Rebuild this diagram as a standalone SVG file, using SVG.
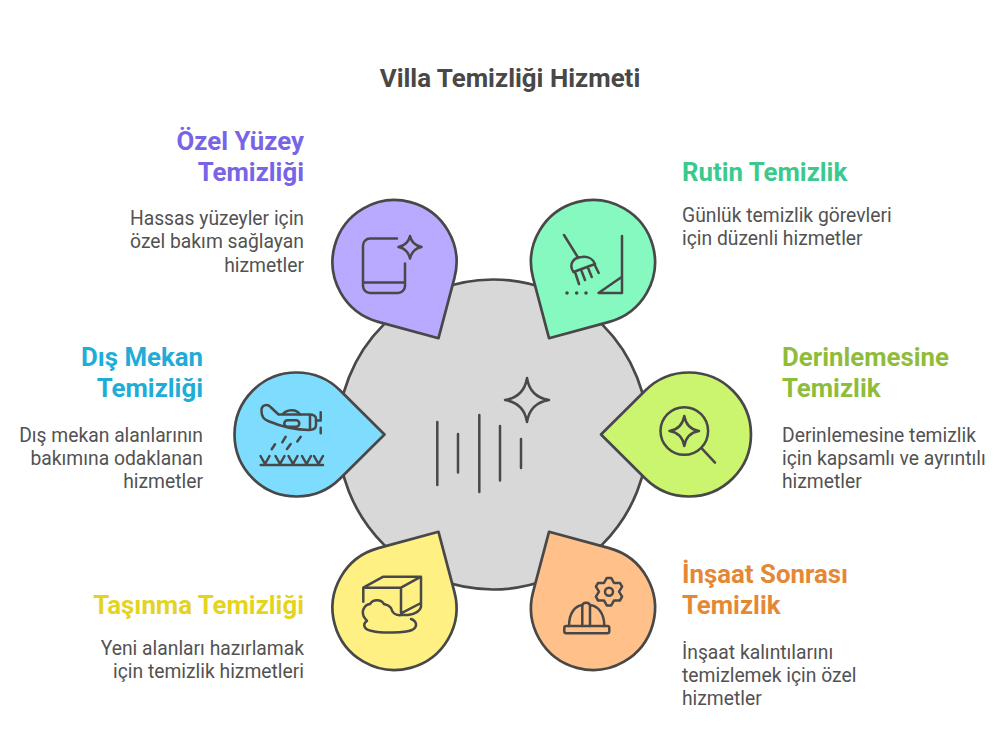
<svg xmlns="http://www.w3.org/2000/svg" width="1000" height="750" viewBox="0 0 1000 750">
<style>
text{font-family:Roboto,"Liberation Sans",sans-serif}
.title{font-size:25.9px;font-weight:700;fill:#484848;text-anchor:middle}
.h{font-size:25.8px;font-weight:700}
.b{font-size:19.3px;fill:#525252}
.e{text-anchor:end}
.drop{stroke:#484848;stroke-width:2.7;stroke-linejoin:round}
.i{fill:none;stroke:#484848;stroke-width:2.5;stroke-linecap:round;stroke-linejoin:round}
.d{stroke-width:3.6}
</style>
<defs>
<path id="drop" d="M88 0L43.7 44A62 62 0 1 1 43.7 -44Z"/>
</defs>
<rect width="1000" height="750" fill="#fff"/>
<text class="title" x="510" y="87">Villa Temizliği Hizmeti</text>
<g id="connectors"/>
<g id="center">
<circle cx="493" cy="434.5" r="155" fill="#d8d8d8" stroke="#484848" stroke-width="2.7"/>
<path class="i" d="M437.3 422V485M458 434V472.5M479.3 415V492M500 426V480.5M521 439V468"/>
<path class="i" d="M527 378Q530 397 549 400Q530 403 527 422Q524 403 505 400Q524 397 527 378Z"/>
</g>
<g id="node-ozel">
<use href="#drop" class="drop" fill="#b9a9ff" transform="translate(394.5 262) rotate(60)"/>
<path class="i" d="M397 238.5H370a7 7 0 0 0 -7 7V286a7 7 0 0 0 7 7H398a7 7 0 0 0 7 -7V263.5M363 282.5H405"/>
<path class="i" d="M410 236Q412 245 421.5 247Q412 249 410 258.5Q408 249 398.5 247Q408 245 410 236Z"/>
<text class="h e" fill="#7864e6" x="304" y="150">Özel Yüzey</text>
<text class="h e" fill="#7864e6" x="304" y="181">Temizliği</text>
<text class="b e" x="304" y="225">Hassas yüzeyler için</text>
<text class="b e" x="304" y="248">özel bakım sağlayan</text>
<text class="b e" x="304" y="271.500">hizmetler</text>
</g>
<g id="node-rutin">
<use href="#drop" class="drop" fill="#85f9c0" transform="translate(593 262) rotate(120)"/>
<path class="i" d="M564 235L578.3 258M573.500 272C568 264 574 257 582 257C588 256 593 259 595 264L573.500 272M575 272L579 284M581 269.500L585 280M587.700 267L591.700 277M594.300 264L598.700 273"/>
<path class="i" d="M622 236V293H598.500L622 276.700"/>
<path class="i d" d="M567 293h.01M576.700 293h.01M586 293h.01"/>
<text class="h" fill="#3bc98e" x="682" y="181">Rutin Temizlik</text>
<text class="b" x="682" y="222">Günlük temizlik görevleri</text>
<text class="b" x="682" y="245">için düzenli hizmetler</text>
</g>
<g id="node-derin">
<use href="#drop" class="drop" fill="#cbf56e" transform="translate(689 434.5) rotate(180)"/>
<circle class="i" cx="684.3" cy="431" r="23.8"/>
<path class="i" d="M701.7 448.3L715 462.7"/>
<path class="i" d="M684.3 416Q686.5 429 699 431Q686.5 433 684.3 446Q682 433 669.5 431Q682 429 684.3 416Z"/>
<text class="h" fill="#8fbd3b" x="782" y="366">Derinlemesine</text>
<text class="h" fill="#8fbd3b" x="782" y="397">Temizlik</text>
<text class="b" x="782" y="442">Derinlemesine temizlik</text>
<text class="b" x="782" y="465">için kapsamlı ve ayrıntılı</text>
<text class="b" x="782" y="488">hizmetler</text>
</g>
<g id="node-dis">
<use href="#drop" class="drop" fill="#7eddff" transform="translate(296.5 434.5)"/>
<path class="i" d="M261.5 411C261 405.5 267 403 270.5 407L278.5 414.5H309C314 414.5 316 416 316 419V425C316 428.5 313 430 309 430C295 430 280 426 268 421C264 419.5 261.5 417 261.5 411Z"/>
<path class="i" d="M283 414C286 410 296 408 300 414.5M310 415V429.5M316 420.5H320.7M320.7 412.3V419M320.7 427.7V433.3"/>
<rect class="i" x="284.3" y="420.3" width="15" height="6.4" rx="3.2"/>
<path class="i" d="M285.7 436.7L282.3 442.3M300.7 436.7L297.3 441.5M275 444.3L271.7 449.3M290.7 444L287 449"/>
<path class="i" d="M260.7 465H323M260.5 456L265 464L269.5 456M275.5 456L280 464L284.5 456M288.5 456L293 464L297.5 456M302 456L306.5 464L311 456M314 456L318.5 464L323 456"/>
<text class="h e" fill="#1fadd8" x="203" y="366">Dış Mekan</text>
<text class="h e" fill="#1fadd8" x="203" y="397">Temizliği</text>
<text class="b e" x="203" y="442">Dış mekan alanlarının</text>
<text class="b e" x="203" y="465">bakımına odaklanan</text>
<text class="b e" x="203" y="488">hizmetler</text>
</g>
<g id="node-tasinma">
<use href="#drop" class="drop" fill="#fff083" transform="translate(394.5 608) rotate(-60)"/>
<path class="i" d="M363.3 601.7V587.7H401V613.3M363.3 587.7L383.3 576.7H421L401 587.7M421 576.7V607C420 612 414 614 408 615H401C395 616 392 612 391 608C388 604 385 605 384 604C381 599 373 599 370 604C366 604 362 609 363 614C363 618 367 620 367 621C362 624 364 630 372 631C382 633.5 405 633 412 630C418 627 417 621 411 619M401 613.3L421 603"/>
<text class="h e" fill="#e5d41f" x="304" y="614">Taşınma Temizliği</text>
<text class="b e" x="304" y="655">Yeni alanları hazırlamak</text>
<text class="b e" x="304" y="678">için temizlik hizmetleri</text>
</g>
<g id="node-insaat">
<use href="#drop" class="drop" fill="#ffc08a" transform="translate(593 608) rotate(-120)"/>
<rect class="i" x="564.3" y="626" width="45" height="7.3" rx="2"/>
<path class="i" d="M569 626C569 613 575 606 582.3 605M590 605C598 606 604.3 613 604.3 626M582.3 626V606C582.3 601.5 590 601.5 590 606V626"/>
<path class="i" d="M606.8 577.9H611.2L614 583L619.9 582.9L622.1 586.7L619 591.7L622.1 596.7L619.9 600.5L614 600.4L611.2 605.5H606.8L604 600.4L598.1 600.5L595.9 596.7L599 591.7L595.9 586.7L598.1 582.9L604 583Z"/>
<circle class="i" cx="609" cy="591.7" r="4"/>
<text class="h" fill="#e58836" x="682" y="583">İnşaat Sonrası</text>
<text class="h" fill="#e58836" x="682" y="614">Temizlik</text>
<text class="b" x="682" y="659">İnşaat kalıntılarını</text>
<text class="b" x="682" y="682">temizlemek için özel</text>
<text class="b" x="682" y="705">hizmetler</text>
</g>
</svg>
